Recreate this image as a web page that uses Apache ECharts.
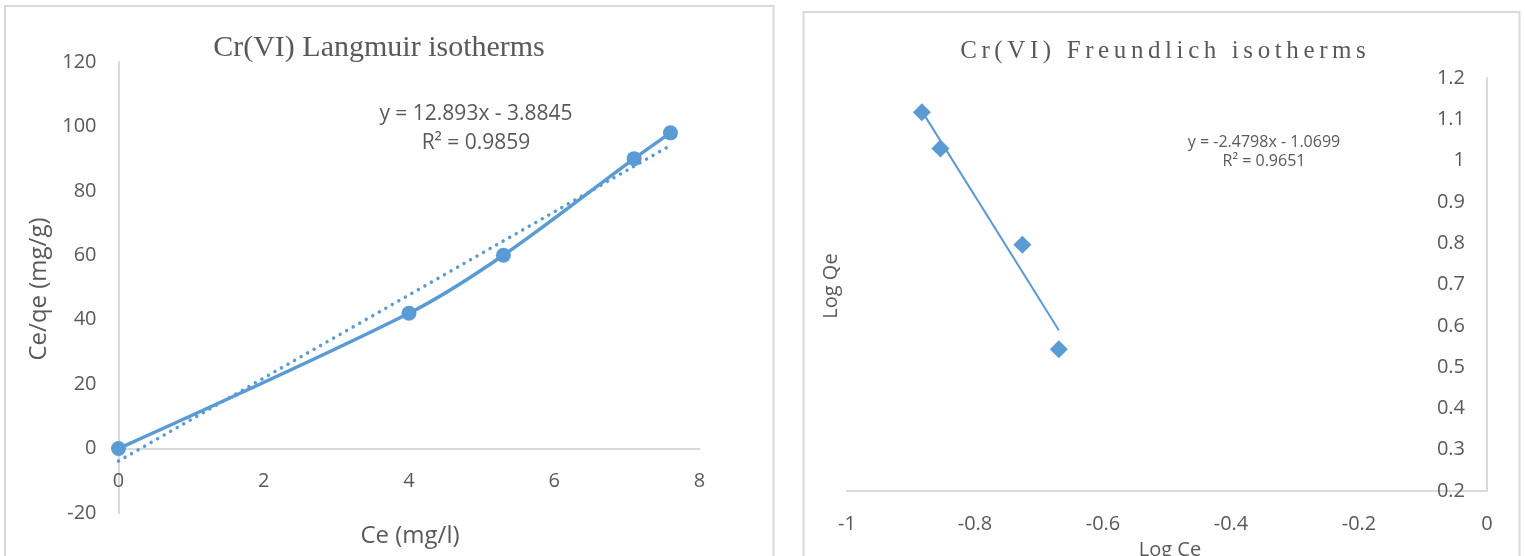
<!DOCTYPE html>
<html>
<head>
<meta charset="utf-8">
<script src="https://cdn.jsdelivr.net/npm/echarts@6/dist/echarts.min.js"></script>
<style>
  html, body { margin: 0; padding: 0; background: #fff; }
  #chart { width: 1525px; height: 556px; }
</style>
</head>
<body>
<div id="chart"></div>
<script>
// Langmuir isotherm: Ce (mg/l) against Ce/qe (mg/g)
const langCe = [0, 4, 5.3, 7.1, 7.6];
const langCeQe = [0, 42, 60, 90, 98];
const langFit = [12.893, -3.8845];   // slope, intercept
const langR2 = 0.9859;

// Freundlich isotherm: Log Ce against Log Qe
const freLogCe = [-0.883, -0.854, -0.726, -0.669];
const freLogQe = [1.117, 1.029, 0.796, 0.543];
const freFit = [-2.4798, -1.0699];    // slope, intercept
const freR2 = 0.9651;

const titles = ['Cr(VI) Langmuir isotherms', 'Cr(VI) Freundlich isotherms'];
const axisNames = ['Ce (mg/l)', 'Ce/qe (mg/g)', 'Log Ce', 'Log Qe'];

const BLUE = '#5b9bd5';
const TEXT = '#595959';
const AXIS = '#d9d9d9';
const SANS = '"Open Sans", "Liberation Sans", sans-serif';
const SERIF = '"Liberation Serif", "Times New Roman", serif';

// Langmuir plot box; the category axis sits on the zero line of the value axis
const LG = { left: 118.5, top: 62, width: 581, height: 451 };
const LY = [-20, 120];
const zeroOffset = -LG.height * (0 - LY[0]) / (LY[1] - LY[0]);

function fitLine(fit, x0, x1) {
  return [[x0, fit[0] * x0 + fit[1]], [x1, fit[0] * x1 + fit[1]]];
}
function eqText(fit) {
  const sign = fit[1] < 0 ? ' - ' : ' + ';
  return 'y = ' + fit[0] + 'x' + sign + Math.abs(fit[1]);
}
function pairs(xs, ys) { return xs.map((x, i) => [x, ys[i]]); }

// widely tracked title, one rich token per character
const spacedTitle = titles[1].split('').map(c => '{c|' + c + '}').join('');

const chart = echarts.init(document.getElementById('chart'));
chart.setOption({
  animation: false,
  backgroundColor: '#fff',
  grid: [
    LG,
    { left: 847, top: 78, width: 640, height: 413 }
  ],
  xAxis: [
    {
      gridIndex: 0, type: 'value', min: 0, max: 8, interval: 2, offset: zeroOffset,
      axisLine: { show: true, onZero: false, lineStyle: { color: AXIS, width: 2 } },
      axisTick: { show: false }, splitLine: { show: false },
      axisLabel: { fontSize: 20, color: TEXT, fontFamily: SANS, margin: 23 }
    },
    {
      gridIndex: 1, type: 'value', min: -1, max: 0, interval: 0.2,
      axisLine: { show: true, onZero: false, lineStyle: { color: AXIS, width: 2 } },
      axisTick: { show: false }, splitLine: { show: false },
      axisLabel: { fontSize: 20, color: TEXT, fontFamily: SANS, margin: 23 }
    }
  ],
  yAxis: [
    {
      gridIndex: 0, type: 'value', min: LY[0], max: LY[1], interval: 20,
      axisLine: { show: true, onZero: false, lineStyle: { color: AXIS, width: 2 } },
      axisTick: { show: false }, splitLine: { show: false },
      axisLabel: { fontSize: 20, color: TEXT, fontFamily: SANS, margin: 22 }
    },
    {
      gridIndex: 1, type: 'value', position: 'right', min: 0.2, max: 1.2, interval: 0.1,
      axisLine: { show: true, onZero: false, lineStyle: { color: AXIS, width: 2 } },
      axisTick: { show: false }, splitLine: { show: false },
      axisLabel: { inside: true, fontSize: 20, color: TEXT, fontFamily: SANS, margin: 22 }
    }
  ],
  series: [
    {
      type: 'line', xAxisIndex: 0, yAxisIndex: 0,
      data: fitLine(langFit, langCe[0], langCe[langCe.length - 1]),
      showSymbol: false, silent: true, z: 2,
      lineStyle: { color: BLUE, width: 3.5, type: [0.01, 7.5], cap: 'round' }
    },
    {
      type: 'line', xAxisIndex: 0, yAxisIndex: 0,
      data: pairs(langCe, langCeQe), smooth: 0.3,
      symbol: 'circle', symbolSize: 15, z: 3,
      itemStyle: { color: BLUE },
      lineStyle: { color: BLUE, width: 3.5 }
    },
    {
      type: 'line', xAxisIndex: 1, yAxisIndex: 1,
      data: fitLine(freFit, Math.min(...freLogCe), Math.max(...freLogCe)),
      showSymbol: false, silent: true, z: 2,
      lineStyle: { color: BLUE, width: 2 }
    },
    {
      type: 'scatter', xAxisIndex: 1, yAxisIndex: 1,
      data: pairs(freLogCe, freLogQe),
      symbol: 'diamond', symbolSize: 18, z: 3,
      itemStyle: { color: BLUE, opacity: 1 }
    }
  ],
  graphic: [
    { type: 'rect', z: -1, silent: true, shape: { x: 5, y: 6, width: 768.5, height: 620 },
      style: { fill: 'none', stroke: AXIS, lineWidth: 2 } },
    { type: 'rect', z: -1, silent: true, shape: { x: 803.5, y: 12, width: 716, height: 620 },
      style: { fill: 'none', stroke: AXIS, lineWidth: 2 } },
    { type: 'text', x: 379, y: 48,
      style: { text: titles[0], font: '30px ' + SERIF, fill: TEXT, align: 'center', verticalAlign: 'middle' } },
    { type: 'text', x: 1163, y: 51,
      style: { text: spacedTitle, fill: TEXT, align: 'center', verticalAlign: 'middle',
        rich: { c: { fontSize: 25, fontFamily: SERIF, fill: TEXT, padding: [0, 2.3, 0, 2.3] } } } },
    { type: 'text', x: 410, y: 536,
      style: { text: axisNames[0], font: '24px ' + SANS, fill: TEXT, align: 'center', verticalAlign: 'middle' } },
    { type: 'text', x: 39, y: 289, rotation: Math.PI / 2,
      style: { text: axisNames[1], font: '24px ' + SANS, fill: TEXT, align: 'center', verticalAlign: 'middle' } },
    { type: 'text', x: 1170, y: 550,
      style: { text: axisNames[2], font: '20px ' + SANS, fill: TEXT, align: 'center', verticalAlign: 'middle' } },
    { type: 'text', x: 831, y: 286, rotation: Math.PI / 2,
      style: { text: axisNames[3], font: '20px ' + SANS, fill: TEXT, align: 'center', verticalAlign: 'middle' } },
    { type: 'text', x: 476, y: 114,
      style: { text: eqText(langFit), font: '21px ' + SANS, fill: TEXT, align: 'center', verticalAlign: 'middle' } },
    { type: 'text', x: 476, y: 143,
      style: { text: 'R² = ' + langR2, font: '21px ' + SANS, fill: TEXT, align: 'center', verticalAlign: 'middle' } },
    { type: 'text', x: 1264, y: 142,
      style: { text: eqText(freFit), font: '16px ' + SANS, fill: TEXT, align: 'center', verticalAlign: 'middle' } },
    { type: 'text', x: 1264, y: 161,
      style: { text: 'R² = ' + freR2, font: '16px ' + SANS, fill: TEXT, align: 'center', verticalAlign: 'middle' } }
  ]
});
</script>
</body>
</html>
